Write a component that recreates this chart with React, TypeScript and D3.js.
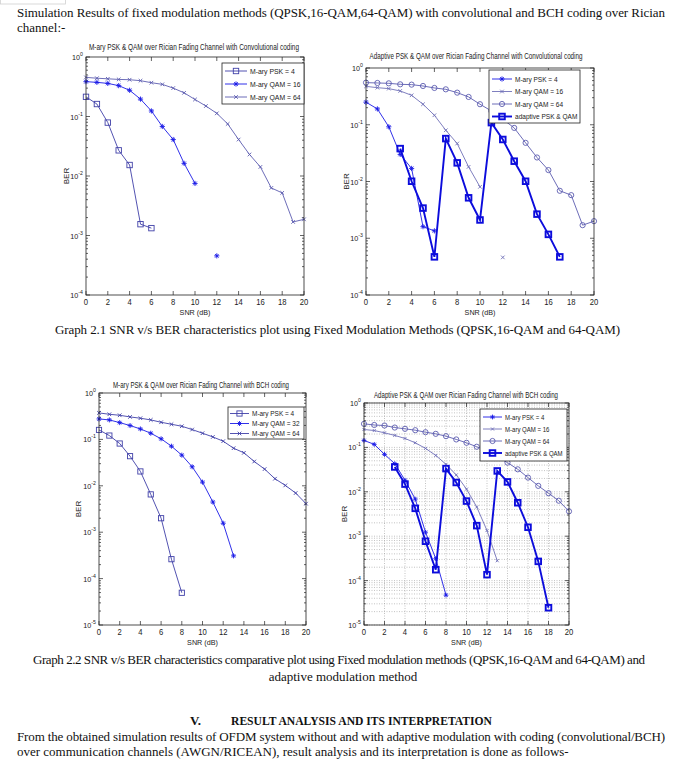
import React from 'react';
import * as d3 from 'd3';

const W = 681;
const H = 769;
const SANS = "'Liberation Sans', Arial, sans-serif";
const SERIF = "'Liberation Serif', 'Times New Roman', serif";

// ---------- data ----------
const snr0to20 = [0, 1, 2, 3, 4, 5, 6, 7, 8, 9, 10, 11, 12, 13, 14, 15, 16, 17, 18, 19, 20];
const xTickValues = [0, 2, 4, 6, 8, 10, 12, 14, 16, 18, 20];

// Graph 2.1 left: fixed, convolutional
const convPsk4X = [0, 1, 2, 3, 4, 5, 6];
const convPsk4 = [0.214, 0.162, 0.079, 0.027, 0.0153, 0.00155, 0.00133];
const convQam16X = [0, 1, 2, 3, 4, 5, 6, 7, 8, 9, 10, 11, 12];
const convQam16 = [0.385, 0.375, 0.36, 0.33, 0.276, 0.196, 0.124, 0.068, 0.041, 0.0163, 0.0075, null, 0.000455];
const convQam64 = [0.454, 0.44, 0.43, 0.42, 0.415, 0.4, 0.37, 0.347, 0.3, 0.25, 0.193, 0.15, 0.113, 0.075, 0.041, 0.023, 0.0142, 0.0063, 0.0052, 0.00169, 0.00187];

// Graph 2.1 right: adaptive, convolutional
const adConvPsk4 = [0.25, 0.19, 0.092, 0.03, 0.017, 0.0016, 0.00135];
const adConvQam16 = [0.475, 0.45, 0.433, 0.394, 0.33, 0.23, 0.147, 0.08, 0.0467, 0.0181, 0.00805, null, 0.00046];
const adConvQam64 = [0.552, 0.545, 0.537, 0.516, 0.509, 0.482, 0.445, 0.421, 0.368, 0.309, 0.23, 0.175, 0.125, 0.088, 0.048, 0.0265, 0.0159, 0.00686, 0.00575, 0.0017, 0.002];
const adConvAdaptiveX = [3, 4, 5, 6, 7, 8, 9, 10, 11, 12, 13, 14, 15, 16, 17];
const adConvAdaptive = [0.038, 0.0101, 0.0034, 0.00047, 0.057, 0.0213, 0.00516, 0.0021, 0.109, 0.055, 0.0228, 0.0101, 0.00266, 0.00117, 0.00047];

// Graph 2.2 left: fixed, BCH
const bchPsk4X = [0, 1, 2, 3, 4, 5, 6, 7, 8];
const bchPsk4 = [0.16, 0.121, 0.0815, 0.0435, 0.0204, 0.00653, 0.002, 0.000262, 0.0000495];
const bchQam32X = [0, 1, 2, 3, 4, 5, 6, 7, 8, 9, 10, 11, 12, 13];
const bchQam32 = [0.276, 0.263, 0.23, 0.199, 0.168, 0.136, 0.103, 0.0714, 0.0458, 0.0257, 0.012, 0.00447, 0.00156, 0.000309];
const bchQam64 = [0.372, 0.348, 0.331, 0.305, 0.286, 0.263, 0.234, 0.212, 0.192, 0.163, 0.136, 0.113, 0.0915, 0.0646, 0.0514, 0.0334, 0.0229, 0.0142, 0.0102, 0.00698, 0.00412];

// Graph 2.2 right: adaptive, BCH
const adBchPsk4 = [0.1435, 0.117, 0.0697, 0.043, 0.0182, 0.00685, 0.00123, 0.000311, 0.000047];
const adBchQam16 = [0.253, 0.24, 0.213, 0.186, 0.159, 0.127, 0.095, 0.066, 0.0416, 0.024, 0.0115, 0.00454, 0.00134, 0.00028];
const adBchQam64 = [0.339, 0.32, 0.311, 0.28, 0.262, 0.244, 0.22, 0.202, 0.179, 0.151, 0.127, 0.1035, 0.0828, 0.0608, 0.0454, 0.0321, 0.0209, 0.0136, 0.0093, 0.0063, 0.00363];
const adBchAdaptiveX = [3, 4, 5, 6, 7, 8, 9, 10, 11, 12, 13, 14, 15, 16, 17, 18];
const adBchAdaptive = [0.0363, 0.0149, 0.00424, 0.00077, 0.000176, 0.0333, 0.0162, 0.00618, 0.00173, 0.000136, 0.0295, 0.0167, 0.00567, 0.00159, 0.000271, 0.0000245];

// ---------- styles ----------
const C_SLATE = '#4040a8';
const C_BLUE = '#1a1ae6';
const C_LIGHT = '#5c5cb0';
const C_PALE = '#7070b8';
const C_ADAPT = '#0c0cdc';

type Series = {
  xs: number[];
  ys: (number | null)[];
  color: string;
  marker: string;
  size: number;
  width: number;
  label: string;
};

type PanelCfg = {
  left: number; right: number; top: number; bottom: number; minExp: number;
  title: string; titleX: number; titleY: number; titleLen: number;
  berX: number; snrY: number;
  legend: { x0: number; y0: number; x1: number; y1: number; rows: number[]; lx0: number; lx1: number; tx: number; fs: number };
  series: Series[];
  grid?: boolean;
};

function markerEl(kind: string, cx: number, cy: number, s: number, color: string, sw: number, key: string) {
  if (kind === 'square') return <rect key={key} x={cx - s} y={cy - s} width={2 * s} height={2 * s} fill="none" stroke={color} strokeWidth={sw} />;
  if (kind === 'circle') return <circle key={key} cx={cx} cy={cy} r={s} fill="none" stroke={color} strokeWidth={sw} />;
  if (kind === 'x') return <path key={key} d={`M${cx - s},${cy - s}L${cx + s},${cy + s}M${cx - s},${cy + s}L${cx + s},${cy - s}`} stroke={color} strokeWidth={sw} fill="none" />;
  const d = s * 0.7;
  return <path key={key} d={`M${cx - s},${cy}L${cx + s},${cy}M${cx},${cy - s}L${cx},${cy + s}M${cx - d},${cy - d}L${cx + d},${cy + d}M${cx - d},${cy + d}L${cx + d},${cy - d}`} stroke={color} strokeWidth={sw} fill="none" />;
}

function Panel({ cfg, id }: { cfg: PanelCfg; id: string }) {
  const xS = d3.scaleLinear().domain([0, 20]).range([cfg.left, cfg.right]);
  const yS = d3.scaleLog().domain([Math.pow(10, cfg.minExp), 1]).range([cfg.bottom, cfg.top]);
  const exps = d3.range(cfg.minExp, 1);
  const minors: number[] = [];
  exps.slice(0, -1).forEach((e) => {
    for (let k = 2; k <= 9; k++) minors.push(k * Math.pow(10, e));
  });
  const lineGen = d3
    .line<[number, number | null]>()
    .defined((d) => d[1] != null)
    .x((d) => xS(d[0]))
    .y((d) => yS(d[1] as number));
  const lg = cfg.legend;
  return (
    <g>
      <rect x={cfg.left} y={cfg.top} width={cfg.right - cfg.left} height={cfg.bottom - cfg.top} fill="#fff" />
      {cfg.grid && (
        <g stroke="#9a9a9a" strokeWidth={0.6} strokeDasharray="1,1.5">
          {xTickValues.map((t) => (
            <line key={'gx' + t} x1={xS(t)} x2={xS(t)} y1={cfg.top} y2={cfg.bottom} />
          ))}
          {exps.map((e) => (
            <line key={'gy' + e} x1={cfg.left} x2={cfg.right} y1={yS(Math.pow(10, e))} y2={yS(Math.pow(10, e))} />
          ))}
          {minors.map((m, i) => (
            <line key={'gm' + i} x1={cfg.left} x2={cfg.right} y1={yS(m)} y2={yS(m)} />
          ))}
        </g>
      )}
      {/* ticks */}
      <g stroke="#222" strokeWidth={0.7}>
        {xTickValues.map((t) => (
          <g key={'xt' + t}>
            <line x1={xS(t)} x2={xS(t)} y1={cfg.bottom} y2={cfg.bottom - 4} />
            <line x1={xS(t)} x2={xS(t)} y1={cfg.top} y2={cfg.top + 4} />
          </g>
        ))}
        {exps.map((e) => (
          <g key={'yt' + e}>
            <line x1={cfg.left} x2={cfg.left + 4} y1={yS(Math.pow(10, e))} y2={yS(Math.pow(10, e))} />
            <line x1={cfg.right} x2={cfg.right - 4} y1={yS(Math.pow(10, e))} y2={yS(Math.pow(10, e))} />
          </g>
        ))}
        {minors.map((m, i) => (
          <g key={'ym' + i}>
            <line x1={cfg.left} x2={cfg.left + 2} y1={yS(m)} y2={yS(m)} />
            <line x1={cfg.right} x2={cfg.right - 2} y1={yS(m)} y2={yS(m)} />
          </g>
        ))}
      </g>
      {/* series */}
      {cfg.series.map((s, si) => {
        const pts: [number, number | null][] = s.xs.map((x, i) => [x, s.ys[i]]);
        return (
          <g key={id + 's' + si}>
            <path d={lineGen(pts) || ''} fill="none" stroke={s.color} strokeWidth={s.width} strokeLinejoin="miter" />
            {pts
              .filter((p) => p[1] != null)
              .map((p, i) => markerEl(s.marker, xS(p[0]), yS(p[1] as number), s.size, s.color, s.width, id + 'm' + si + '_' + i))}
          </g>
        );
      })}
      {/* frame */}
      <rect x={cfg.left} y={cfg.top} width={cfg.right - cfg.left} height={cfg.bottom - cfg.top} fill="none" stroke="#222" strokeWidth={0.8} />
      {/* tick labels */}
      <g fontFamily={SANS} fill="#222">
        {xTickValues.map((t) => (
          <text key={'xl' + t} transform={`translate(${xS(t)},${cfg.bottom + 10}) scale(0.9,1)`} fontSize={8.5} textAnchor="middle">
            {t}
          </text>
        ))}
        {exps.map((e) => (
          <text key={'yl' + e} transform={`translate(${cfg.left - 3},${yS(Math.pow(10, e)) + 3}) scale(0.9,1)`} fontSize={8} textAnchor="end">
            10
            <tspan dy={-4} fontSize={5.8}>
              {e === 0 ? '0' : String(e)}
            </tspan>
          </text>
        ))}
        <text x={cfg.titleX} y={cfg.titleY} fontSize={8.8} textAnchor="middle" textLength={cfg.titleLen} lengthAdjust="spacingAndGlyphs">
          {cfg.title}
        </text>
        <text transform={`translate(${(cfg.left + cfg.right) / 2},${cfg.snrY}) scale(0.9,1)`} fontSize={8} textAnchor="middle">
          SNR (dB)
        </text>
        <text transform={`translate(${cfg.berX},${(cfg.top + cfg.bottom) / 2}) rotate(-90)`} fontSize={8} textAnchor="middle">
          BER
        </text>
      </g>
      {/* legend */}
      <rect x={lg.x0} y={lg.y0} width={lg.x1 - lg.x0} height={lg.y1 - lg.y0} fill="#fff" stroke="#222" strokeWidth={0.8} />
      {cfg.series.map((s, si) => {
        const y = lg.rows[si];
        return (
          <g key={id + 'lg' + si}>
            <line x1={lg.lx0} x2={lg.lx1} y1={y} y2={y} stroke={s.color} strokeWidth={s.width} />
            {markerEl(s.marker, (lg.lx0 + lg.lx1) / 2, y, s.size, s.color, s.width, id + 'lm' + si)}
            <text transform={`translate(${lg.tx},${y + 2.8}) scale(0.85,1)`} fontFamily={SANS} fontSize={lg.fs} fill="#222">
              {s.label}
            </text>
          </g>
        );
      })}
    </g>
  );
}

const panels: PanelCfg[] = [
  {
    left: 86, right: 304, top: 57, bottom: 295, minExp: -4,
    title: 'M-ary PSK & QAM over Rician Fading Channel with Convolutional coding', titleX: 194, titleY: 50, titleLen: 210,
    berX: 69, snrY: 315,
    legend: { x0: 222, y0: 63, x1: 304, y1: 104, rows: [71, 84, 97], lx0: 225, lx1: 247, tx: 250, fs: 8.1 },
    series: [
      { xs: convPsk4X, ys: convPsk4, color: C_SLATE, marker: 'square', size: 2.7, width: 0.9, label: 'M-ary PSK = 4' },
      { xs: convQam16X, ys: convQam16, color: C_BLUE, marker: 'star', size: 2.6, width: 0.9, label: 'M-ary QAM = 16' },
      { xs: snr0to20, ys: convQam64, color: C_LIGHT, marker: 'x', size: 1.8, width: 0.9, label: 'M-ary QAM = 64' },
    ],
  },
  {
    left: 366, right: 594, top: 68, bottom: 295, minExp: -4,
    title: 'Adaptive PSK & QAM over Rician Fading Channel with Convolutional coding', titleX: 476, titleY: 59, titleLen: 213,
    berX: 349, snrY: 315,
    legend: { x0: 489, y0: 70, x1: 580, y1: 123, rows: [79, 91.5, 104, 116.5], lx0: 492, lx1: 512, tx: 515, fs: 7.7 },
    series: [
      { xs: convPsk4X, ys: adConvPsk4, color: C_BLUE, marker: 'star', size: 2.6, width: 0.9, label: 'M-ary PSK = 4' },
      { xs: convQam16X, ys: adConvQam16, color: C_PALE, marker: 'x', size: 1.8, width: 0.9, label: 'M-ary QAM = 16' },
      { xs: snr0to20, ys: adConvQam64, color: C_LIGHT, marker: 'circle', size: 2.6, width: 0.9, label: 'M-ary QAM = 64' },
      { xs: adConvAdaptiveX, ys: adConvAdaptive, color: C_ADAPT, marker: 'square', size: 2.8, width: 1.9, label: 'adaptive PSK & QAM' },
    ],
  },
  {
    left: 99, right: 306, top: 393, bottom: 625, minExp: -5,
    title: 'M-ary PSK & QAM over Rician Fading Channel with BCH coding', titleX: 201, titleY: 388, titleLen: 176,
    berX: 81, snrY: 645,
    legend: { x0: 228, y0: 407, x1: 304, y1: 439, rows: [413.5, 423.5, 433.5], lx0: 230, lx1: 249, tx: 252, fs: 7.6 },
    series: [
      { xs: bchPsk4X, ys: bchPsk4, color: C_SLATE, marker: 'square', size: 2.6, width: 0.9, label: 'M-ary PSK = 4' },
      { xs: bchQam32X, ys: bchQam32, color: C_BLUE, marker: 'star', size: 2.5, width: 0.9, label: 'M-ary QAM = 32' },
      { xs: snr0to20, ys: bchQam64, color: C_SLATE, marker: 'x', size: 1.8, width: 0.9, label: 'M-ary QAM = 64' },
    ],
  },
  {
    left: 364, right: 569, top: 403, bottom: 625, minExp: -5,
    title: 'Adaptive PSK & QAM over Rician Fading Channel with BCH coding', titleX: 466, titleY: 398, titleLen: 184,
    berX: 347, snrY: 645, grid: true,
    legend: { x0: 480, y0: 409, x1: 567, y1: 461, rows: [417, 429, 441, 453], lx0: 483, lx1: 502, tx: 505, fs: 7.1 },
    series: [
      { xs: bchPsk4X, ys: adBchPsk4, color: C_BLUE, marker: 'star', size: 2.4, width: 0.9, label: 'M-ary PSK = 4' },
      { xs: bchQam32X, ys: adBchQam16, color: C_PALE, marker: 'x', size: 1.5, width: 0.9, label: 'M-ary QAM = 16' },
      { xs: snr0to20, ys: adBchQam64, color: C_LIGHT, marker: 'circle', size: 2.6, width: 0.9, label: 'M-ary QAM = 64' },
      { xs: adBchAdaptiveX, ys: adBchAdaptive, color: C_ADAPT, marker: 'square', size: 2.8, width: 1.9, label: 'adaptive PSK & QAM' },
    ],
  },
];

export default function App() {
  return (
    <svg width={W} height={H} style={{ position: 'absolute', left: 0, top: 0, background: '#fff' }} xmlns="http://www.w3.org/2000/svg">
      <rect x={0} y={0} width={W} height={H} fill="#fff" />
      <rect x={0.5} y={-1} width={65} height={5} fill="none" stroke="#d0d0d0" strokeWidth={0.8} />
      <g fontFamily={SERIF} fontSize={13} fill="#111">
        <text x={17} y={17} textLength={648} lengthAdjust="spacing">
          Simulation Results of fixed modulation methods (QPSK,16-QAM,64-QAM) with convolutional and BCH coding over Rician
        </text>
        <text x={17} y={32}>channel:-</text>
        <text x={55} y={334} textLength={565} lengthAdjust="spacing">
          Graph 2.1 SNR v/s BER characteristics plot using Fixed Modulation Methods (QPSK,16-QAM and 64-QAM)
        </text>
        <text x={33} y={664} textLength={612} lengthAdjust="spacing">
          Graph 2.2 SNR v/s BER characteristics comparative plot using Fixed modulation methods (QPSK,16-QAM and 64-QAM) and
        </text>
        <text x={343} y={681} textAnchor="middle">
          adaptive modulation method
        </text>
        <text x={190} y={725} fontWeight="bold">
          V.
        </text>
        <text x={231} y={725} fontWeight="bold" textLength={261} lengthAdjust="spacingAndGlyphs">
          RESULT ANALYSIS AND ITS INTERPRETATION
        </text>
        <text x={17} y={741} textLength={648} lengthAdjust="spacing">
          From the obtained simulation results of OFDM system without and with adaptive modulation with coding (convolutional/BCH)
        </text>
        <text x={17} y={756}>
          over communication channels (AWGN/RICEAN), result analysis and its interpretation is done as follows-
        </text>
      </g>
      {panels.map((p, i) => (
        <Panel key={'p' + i} cfg={p} id={'p' + i} />
      ))}
    </svg>
  );
}
